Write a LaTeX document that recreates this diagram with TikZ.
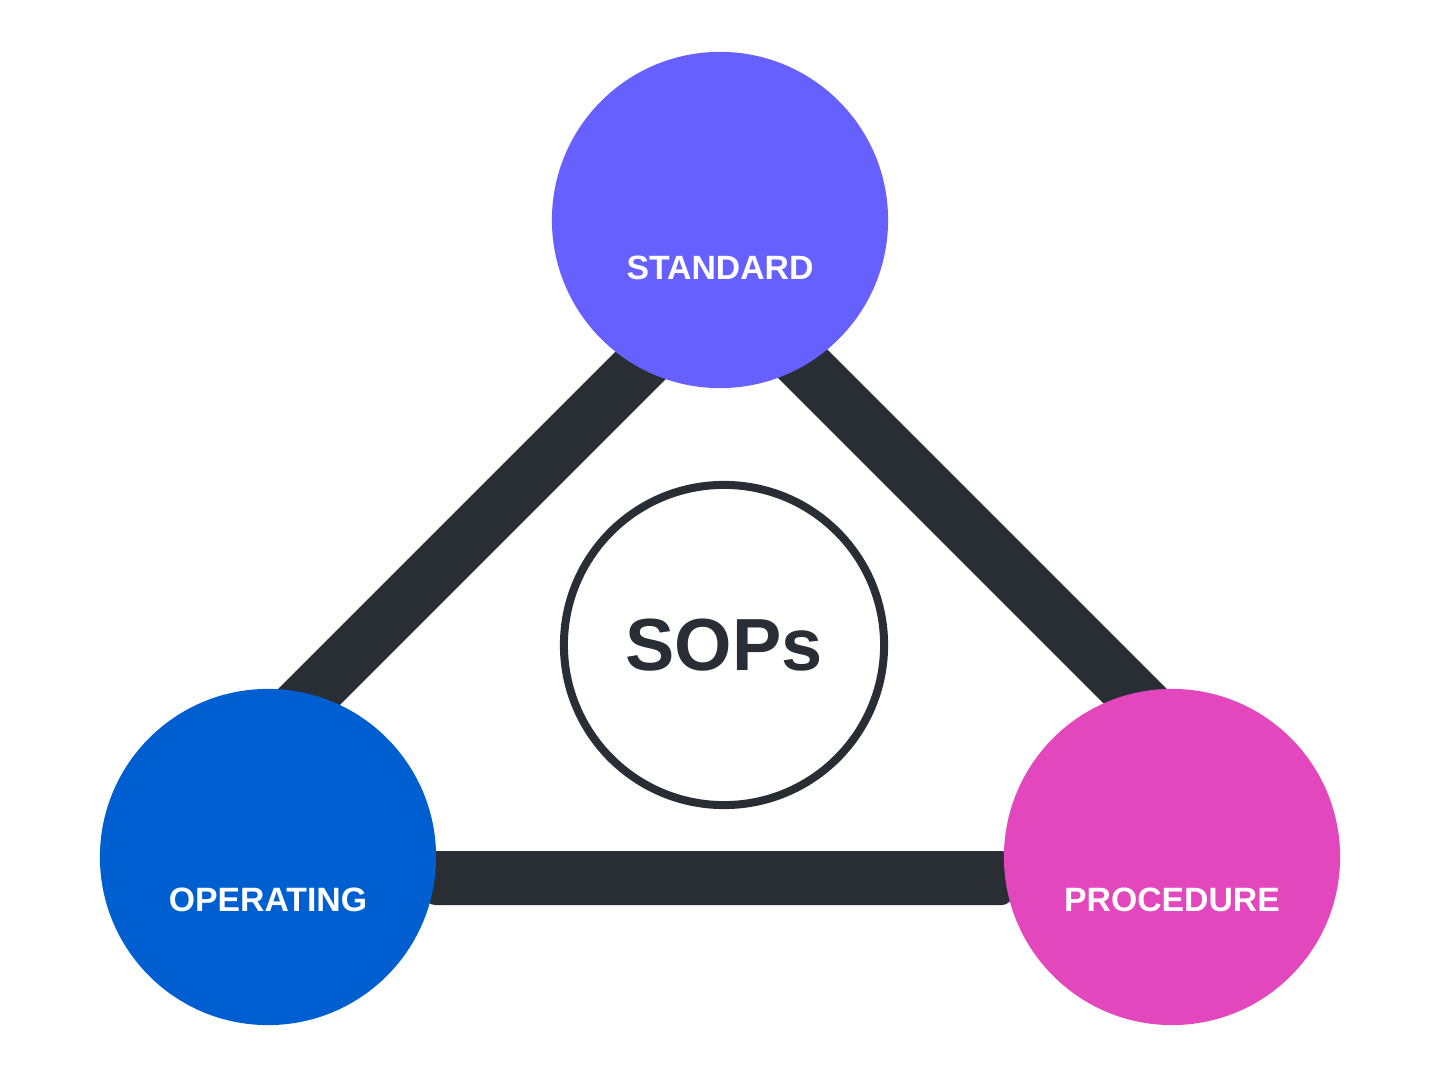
\documentclass[tikz,border=0pt]{standalone}
\usepackage{fontspec}
\setmainfont{Liberation Sans}
\usetikzlibrary{positioning}
\definecolor{stdcol}{HTML}{6560FF}
\definecolor{opcol}{HTML}{005FD0}
\definecolor{procol}{HTML}{E347BD}
\definecolor{barcol}{HTML}{292D34}
\tikzset{
  corner/.style={circle, minimum size=3.36cm, inner sep=0pt, text=white,
    font=\fontsize{9.6pt}{11pt}\selectfont\bfseries},
  bar/.style={barcol, line width=0.55cm}
}
\begin{document}
\begin{tikzpicture}[x=0.01cm,y=-0.01cm]
\useasboundingbox (0,0) rectangle (1440,1080);
% bars behind the circles
\coordinate (l1) at (290,716);
\coordinate (l2) at (690,316);
\coordinate (r1) at (750,311);
\coordinate (r2) at (1150,711);
\draw[bar] (l1) -- (l2);
\draw[bar] (r1) -- (r2);
\fill[barcol, rounded corners=0.1cm] (425,851) rectangle (1012,905);

% corner circles
\node[corner, fill=stdcol] (std) at (720,220) {};
\node[corner, fill=opcol] (op) at (268,857) {};
\node[corner, fill=procol] (pro) at (1172,857) {};
\node[text=white, font=\fontsize{9.6pt}{11pt}\selectfont\bfseries] (stdlbl) at (720,268) {STANDARD};
\node[text=white, font=\fontsize{9.6pt}{11pt}\selectfont\bfseries] (oplbl) at (268,900) {OPERATING};
\node[text=white, font=\fontsize{9.6pt}{11pt}\selectfont\bfseries] (prolbl) at (1172,900) {PROCEDURE};

% centre
\node[circle, draw=barcol, line width=0.08cm, fill=white,
    minimum size=3.2cm, inner sep=0pt,
    text=barcol, font=\fontsize{21pt}{24pt}\selectfont\bfseries
    ] (sop) at (724,645) {SOPs};
\end{tikzpicture}
\end{document}
